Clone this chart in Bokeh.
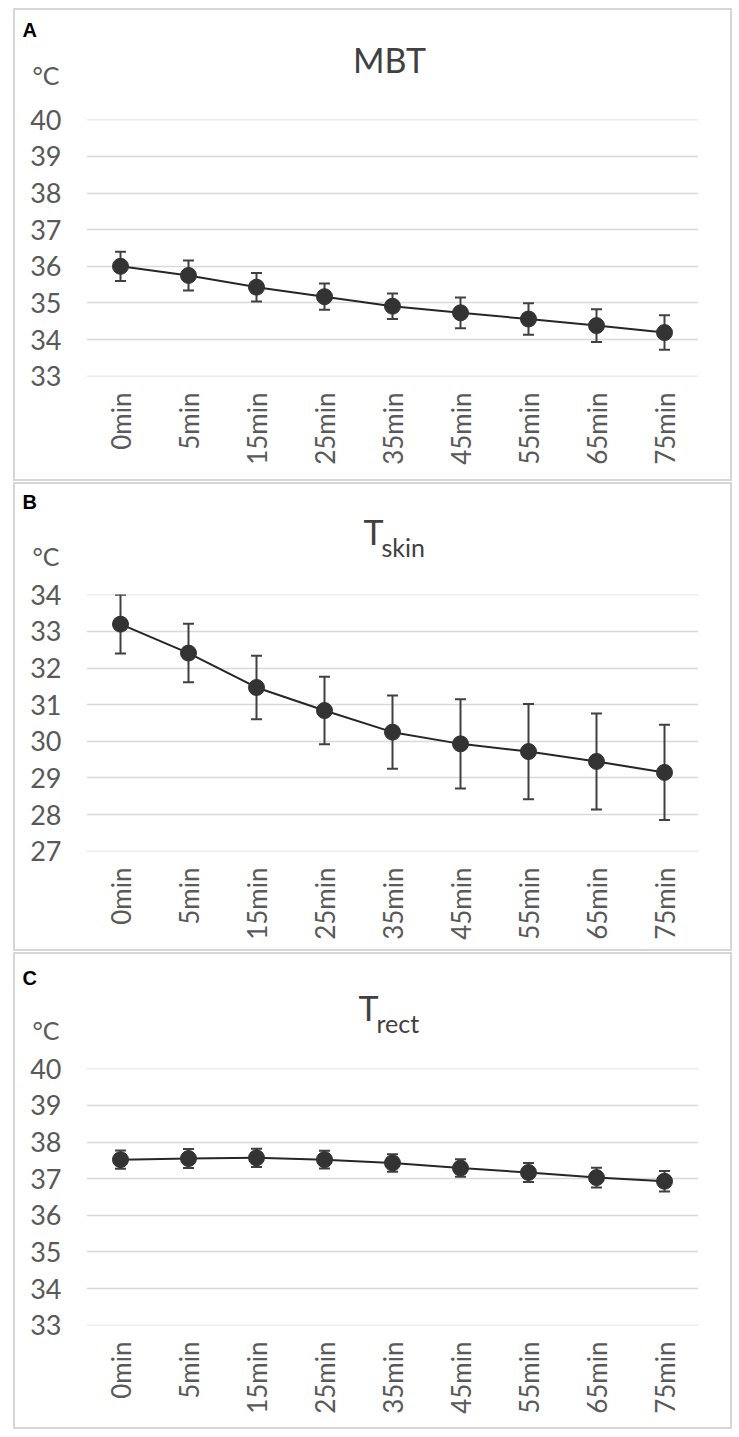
from bokeh.plotting import figure
from bokeh.models import ColumnDataSource, Whisker, FixedTicker, TeeHead, Range1d
from bokeh.layouts import column
from bokeh.core.properties import value
from bokeh.embed import file_html
from bokeh.resources import INLINE

times = ["0min", "5min", "15min", "25min", "35min", "45min", "55min", "65min", "75min"]

mbt_mean = [36.0, 35.75, 35.43, 35.17, 34.91, 34.73, 34.56, 34.38, 34.19]
mbt_err = [0.40, 0.41, 0.39, 0.36, 0.35, 0.42, 0.43, 0.45, 0.47]

tskin_mean = [33.2, 32.41, 31.47, 30.84, 30.25, 29.93, 29.72, 29.45, 29.15]
tskin_err = [0.80, 0.80, 0.87, 0.92, 1.00, 1.22, 1.30, 1.31, 1.30]

trect_mean = [37.52, 37.55, 37.57, 37.52, 37.43, 37.29, 37.17, 37.03, 36.93]
trect_err = [0.25, 0.26, 0.25, 0.24, 0.24, 0.24, 0.26, 0.27, 0.28]

mbt_ticks = [33, 34, 35, 36, 37, 38, 39, 40]
tskin_ticks = [27, 28, 29, 30, 31, 32, 33, 34]
trect_ticks = [33, 34, 35, 36, 37, 38, 39, 40]

FONT = "Lato"
GRAY = "#595959"
TITLE = "#404040"
W = 715


def make_chart(means, errs, ticks, height, top, bottom):
    p = figure(x_range=times, y_range=Range1d(ticks[0] - 0.01, ticks[-1] + 0.01),
               width=W, height=height, output_backend="svg", toolbar_location=None,
               min_border_left=71, min_border_right=32, min_border_top=top,
               min_border_bottom=bottom, background_fill_color="white",
               border_fill_color="white", outline_line_color=None, frame_align=False)
    p.xgrid.grid_line_color = None
    p.ygrid.grid_line_color = "#d9d9d9"
    p.ygrid.grid_line_width = 1.5
    p.yaxis.ticker = FixedTicker(ticks=ticks)
    for ax in (p.xaxis, p.yaxis):
        ax.axis_line_color = None
        ax.major_tick_line_color = None
        ax.minor_tick_line_color = None
        ax.major_label_text_font = FONT
        ax.major_label_text_color = GRAY
    p.yaxis.major_label_text_font_size = "27px"
    p.xaxis.major_label_text_font_size = "26px"
    p.yaxis.major_label_standoff = 19
    p.xaxis.major_label_standoff = 10
    p.xaxis.major_label_orientation = 1.5708

    lower = [m - e for m, e in zip(means, errs)]
    upper = [m + e for m, e in zip(means, errs)]
    src = ColumnDataSource(dict(x=times, y=means, lower=lower, upper=upper))

    w = Whisker(base="x", upper="upper", lower="lower", source=src,
                line_color="#404040", line_width=2,
                upper_head=TeeHead(size=11, line_color="#404040", line_width=2),
                lower_head=TeeHead(size=11, line_color="#404040", line_width=2))
    p.add_layout(w)
    p.line("x", "y", source=src, line_color="#262626", line_width=2)
    p.scatter("x", "y", source=src, size=16, fill_color="#333333", line_color="#333333")
    return p


def make_header(height, letter, letter_y, unit_y, title, title_x, title_y,
                sub=None, sub_x=0, sub_y=0):
    h = figure(x_range=Range1d(0, W), y_range=Range1d(height, 0), width=W, height=height,
               output_backend="svg", toolbar_location=None, x_axis_type=None,
               y_axis_type=None, min_border_left=0, min_border_right=0,
               min_border_top=0, min_border_bottom=0, outline_line_color=None,
               background_fill_color="white", border_fill_color="white",
               frame_align=False, title=None)
    h.text(x=[7], y=[letter_y], text=[letter], text_font=value("Liberation Sans"),
           text_font_style="bold", text_font_size="20px", text_color="black",
           text_baseline="alphabetic")
    h.text(x=[17], y=[unit_y], text=["°C"], text_font=value(FONT),
           text_font_size="25px", text_color=GRAY, text_baseline="alphabetic")
    h.text(x=[title_x], y=[title_y], text=[title], text_font=value(FONT),
           text_font_size="34px", text_color=TITLE, text_baseline="alphabetic",
           text_align="center" if sub is None else "left")
    if sub is not None:
        h.text(x=[sub_x], y=[sub_y], text=[sub], text_font=value(FONT),
               text_font_size="25px", text_color=TITLE, text_baseline="alphabetic")
    return h


BORDER = {"border": "2px solid #d6d6d6", "background-color": "white"}

hA = make_header(90, "A", 19, 64.5, "MBT", 374, 49)
cA = make_chart(mbt_mean, mbt_err, mbt_ticks, 379, 19, 103)
colA = column(hA, cA, spacing=0, styles=BORDER, margin=(8, 0, 0, 13))

hB = make_header(90, "B", 17, 71.5, "T", 348, 47, "skin", 366, 62.5)
cB = make_chart(tskin_mean, tskin_err, tskin_ticks, 375, 20, 98)
colB = column(hB, cB, spacing=0, styles=BORDER, margin=(1, 0, 0, 13))

hC = make_header(95, "C", 23, 75.5, "T", 343, 53, "rect", 361, 68.5)
cC = make_chart(trect_mean, trect_err, trect_ticks, 378, 19, 102)
colC = column(hC, cC, spacing=0, styles=BORDER, margin=(1, 0, 0, 13))

layout = column(colA, colB, colC, spacing=0)

with open("out.html", "w") as f:
    f.write(file_html(layout, INLINE))
